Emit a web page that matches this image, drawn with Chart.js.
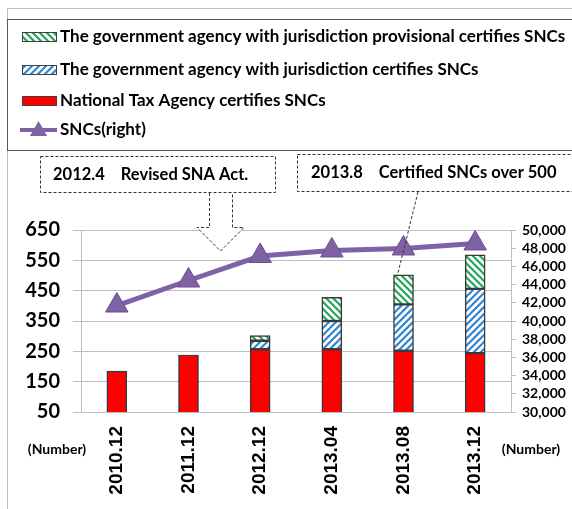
<!DOCTYPE html>
<html lang="en">
<head>
<meta charset="UTF-8">
<title>SNCs</title>
<script src="https://cdn.jsdelivr.net/npm/chart.js"></script>
<style>
  body { margin: 0; background: #fff; }
  .wrap { position: relative; width: 572px; height: 509px; }
</style>
</head>
<body>
<div class="wrap"><canvas id="sncChart"></canvas></div>
<script>
// data
const periods = ['2010.12', '2011.12', '2012.12', '2013.04', '2013.08', '2013.12'];
const ntaCertified = [185, 238, 257, 257, 252, 244];
const agencyCertified = [null, null, 28, 93, 153, 212];
const agencyProvisional = [null, null, 17, 78, 97, 112];
const sncTotal = [41700, 44450, 47140, 47750, 47970, 48520];
const leftTicks = [50, 150, 250, 350, 450, 550, 650];
const rightTicks = [30000, 32000, 34000, 36000, 38000, 40000, 42000, 44000, 46000, 48000, 50000];

const canvas = document.getElementById('sncChart');
const ctx = canvas.getContext('2d');

// diagonal hatch fills like the excel pattern fills
function stripes(color, up) {
    const c = document.createElement('canvas');
    c.width = c.height = 7;
    const g = c.getContext('2d');
    g.fillStyle = '#fff';
    g.fillRect(0, 0, 7, 7);
    g.strokeStyle = color;
    g.lineWidth = 2.2;
    g.beginPath();
    if (up) {
        g.moveTo(-1, 8); g.lineTo(8, -1);
        g.moveTo(-1, 1); g.lineTo(1, -1);
        g.moveTo(6, 8); g.lineTo(8, 6);
    } else {
        g.moveTo(-1, -1); g.lineTo(8, 8);
        g.moveTo(6, -1); g.lineTo(8, 1);
        g.moveTo(-1, 6); g.lineTo(1, 8);
    }
    g.stroke();
    return ctx.createPattern(c, 'repeat');
}

const PURPLE = '#7F62A6';

function triangle(c, x, y, r) {
    c.beginPath();
    c.moveTo(x, y - r);
    c.lineTo(x + r * 0.866, y + r * 0.5);
    c.lineTo(x - r * 0.866, y + r * 0.5);
    c.closePath();
    c.fill();
}

// frame, legend box, callouts
const decor = {
    id: 'decor',
    beforeDraw(chart) {
        const c = chart.ctx;
        c.save();
        c.fillStyle = '#fff';
        c.fillRect(0, 0, chart.width, chart.height);
        c.strokeStyle = '#BFBFBF';
        c.lineWidth = 1;
        c.beginPath();
        c.moveTo(7.5, 509); c.lineTo(7.5, 8.5); c.lineTo(572, 8.5);
        c.stroke();
        c.strokeStyle = '#595959';
        c.strokeRect(7.5, 19.5, 580, 131);

        // legend rows: provisional, certified, NTA, line
        const rows = [[2, 37], [1, 70], [0, 101], [3, 130]];
        c.font = 'bold 17px Lato';
        c.textBaseline = 'middle';
        rows.forEach(([i, y]) => {
            const ds = chart.data.datasets[i];
            if (ds.type === 'line') {
                c.strokeStyle = PURPLE;
                c.lineWidth = 4;
                c.beginPath(); c.moveTo(20, y); c.lineTo(57, y); c.stroke();
                c.fillStyle = PURPLE;
                triangle(c, 38.5, y + 1, 10);
            } else {
                c.fillStyle = ds.backgroundColor;
                c.fillRect(22, y - 5, 35, 10);
                c.strokeStyle = '#404040';
                c.lineWidth = 1;
                c.strokeRect(22.5, y - 4.5, 34, 9);
            }
            c.fillStyle = '#000';
            c.fillText(ds.label, 60, y);
        });

        c.font = 'bold 14px Lato';
        c.textAlign = 'center';
        c.fillText('(Number)', 57, 449);
        c.fillText('(Number)', 531, 449);
        c.restore();
    },
    afterDraw(chart) {
        const c = chart.ctx;
        const xs = chart.scales.x, yl = chart.scales.y;
        c.save();
        c.strokeStyle = '#333';
        c.lineWidth = 1;
        c.setLineDash([3, 2]);
        c.font = 'bold 16.5px Lato';
        c.textBaseline = 'middle';
        c.fillStyle = '#000';

        c.strokeRect(40.5, 156.5, 235, 36);
        c.fillText('2012.4    Revised SNA Act.', 53, 175);
        c.strokeRect(297.5, 154.5, 290, 37);
        c.fillText('2013.8    Certified SNCs over 500', 311, 173);

        // hollow block arrow
        c.beginPath();
        c.moveTo(209.5, 193); c.lineTo(209.5, 227.5); c.lineTo(197, 227.5);
        c.lineTo(220.5, 251); c.lineTo(244, 227.5); c.lineTo(232.5, 227.5);
        c.lineTo(232.5, 193);
        c.fillStyle = '#fff';
        c.fill();
        c.stroke();

        // leader to the 2013.08 stack
        const top = ntaCertified[4] + agencyCertified[4] + agencyProvisional[4];
        c.beginPath();
        c.moveTo(418, 192);
        c.lineTo(xs.getPixelForValue(4) - 6, yl.getPixelForValue(top));
        c.stroke();
        c.restore();
    }
};

const barBorder = '#3A3A3A';

new Chart(ctx, {
    type: 'bar',
    data: {
        labels: periods,
        datasets: [
            {
                label: 'National Tax Agency certifies SNCs',
                data: ntaCertified,
                backgroundColor: '#FF0000',
                borderColor: barBorder,
                borderWidth: 1.5,
                borderSkipped: false,
                barThickness: 20,
                yAxisID: 'y',
                stack: 'snc',
                order: 1
            },
            {
                label: 'The government agency with jurisdiction certifies SNCs',
                data: agencyCertified,
                backgroundColor: stripes('#2F86CF', true),
                borderColor: barBorder,
                borderWidth: 1.5,
                borderSkipped: false,
                barThickness: 20,
                yAxisID: 'y',
                stack: 'snc',
                order: 1
            },
            {
                label: 'The government agency with jurisdiction provisional certifies SNCs',
                data: agencyProvisional,
                backgroundColor: stripes('#23A55A', false),
                borderColor: barBorder,
                borderWidth: 1.5,
                borderSkipped: false,
                barThickness: 20,
                yAxisID: 'y',
                stack: 'snc',
                order: 1
            },
            {
                type: 'line',
                label: 'SNCs(right)',
                data: sncTotal,
                yAxisID: 'y2',
                borderColor: PURPLE,
                borderWidth: 5,
                pointStyle: 'triangle',
                pointRadius: 13,
                pointBackgroundColor: PURPLE,
                pointBorderColor: '#6A5090',
                pointBorderWidth: 1,
                order: 0
            }
        ]
    },
    options: {
        responsive: true,
        maintainAspectRatio: false,
        animation: false,
        layout: { padding: { top: 230, left: 0, right: 0, bottom: 0 } },
        plugins: {
            legend: { display: false },
            tooltip: { enabled: false }
        },
        scales: {
            x: {
                stacked: true,
                offset: true,
                grid: { display: false, drawTicks: false },
                border: { display: false },
                ticks: {
                    maxRotation: 90,
                    minRotation: 90,
                    padding: 14,
                    color: '#000',
                    font: { family: 'Liberation Sans', weight: 'bold', size: 19 }
                },
                afterFit: s => { s.height = 97; }
            },
            y: {
                position: 'left',
                stacked: true,
                min: 50,
                max: 650,
                afterBuildTicks: s => { s.ticks = leftTicks.map(v => ({ value: v })); },
                grid: { color: '#BFBFBF', lineWidth: 1, tickLength: 8 },
                border: { color: '#BFBFBF' },
                ticks: {
                    padding: 13,
                    color: '#000',
                    font: { family: 'Lato', weight: 'bold', size: 20 }
                },
                afterFit: s => { s.width = 81; }
            },
            y2: {
                position: 'right',
                min: 30000,
                max: 50000,
                afterBuildTicks: s => { s.ticks = rightTicks.map(v => ({ value: v })); },
                grid: { drawOnChartArea: false, color: '#BFBFBF', tickLength: 5 },
                border: { color: '#BFBFBF' },
                ticks: {
                    autoSkip: false,
                    padding: 6,
                    color: '#000',
                    font: { family: 'Lato', weight: 'bold', size: 14 },
                    callback: v => v.toLocaleString('en-US')
                },
                afterFit: s => { s.width = 61; }
            }
        }
    },
    plugins: [decor]
});
</script>
</body>
</html>
